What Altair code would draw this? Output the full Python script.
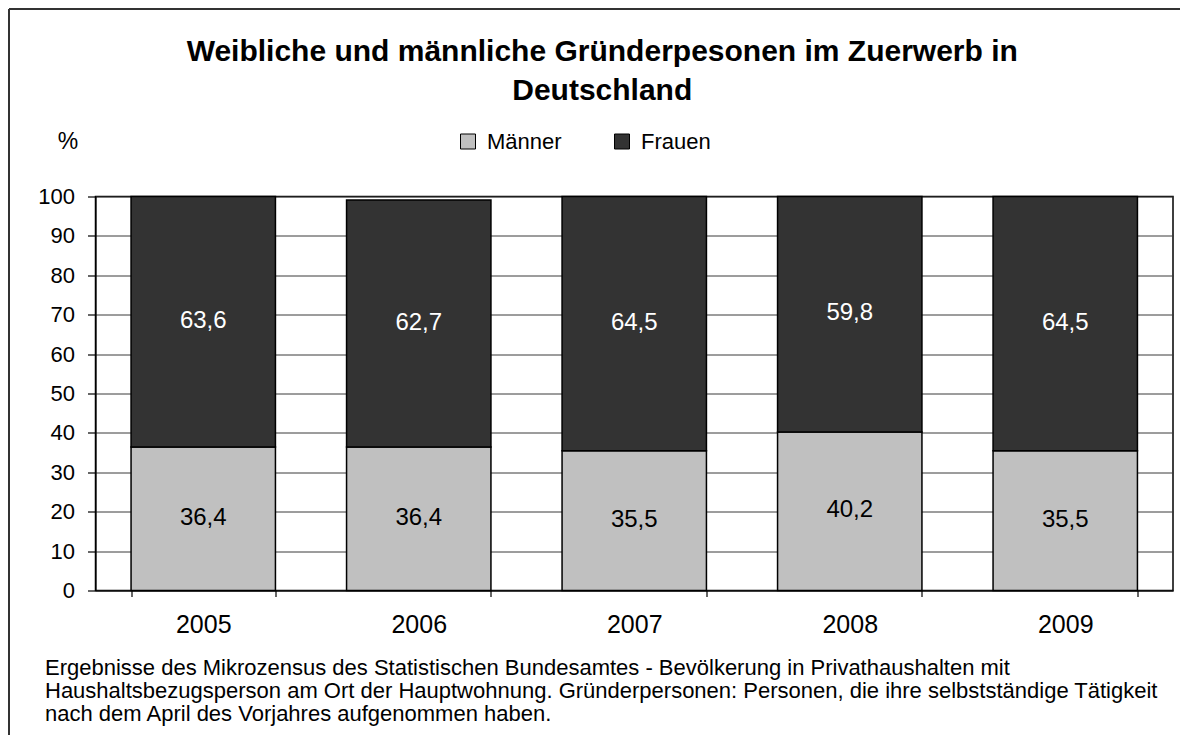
import altair as alt
import pandas as pd

years = ["2005", "2006", "2007", "2008", "2009"]
maenner = [36.4, 36.4, 35.5, 40.2, 35.5]
frauen = [63.6, 62.7, 64.5, 59.8, 64.5]
series = ["Männer", "Frauen"]
colors = ["#C0C0C0", "#333333"]
label_colors = ["black", "white"]
y_ticks = [0, 10, 20, 30, 40, 50, 60, 70, 80, 90, 100]

title_lines = ["Weibliche und männliche Gründerpesonen im Zuerwerb in", "Deutschland"]
footnote = [
    "Ergebnisse des Mikrozensus des Statistischen Bundesamtes - Bevölkerung in Privathaushalten mit",
    "Haushaltsbezugsperson am Ort der Hauptwohnung. Gründerpersonen: Personen, die ihre selbstständige Tätigkeit",
    "nach dem April des Vorjahres aufgenommen haben.",
]

rows = []
for i, y in enumerate(years):
    base = 0.0
    for s, vals, lc in zip(series, [maenner, frauen], label_colors):
        v = vals[i]
        rows.append({
            "Jahr": y, "Gruppe": s, "order": series.index(s),
            "y0": base, "y1": base + v, "mid": base + v / 2,
            "label": f"{v:.1f}".replace(".", ","), "lc": lc,
        })
        base += v
df = pd.DataFrame(rows)

FONT = "Liberation Sans"
W, H = 1077.5, 394

x_axis = alt.Axis(title=footnote, titleFont=FONT, titleFontSize=22,
                  titleFontWeight="normal", titleColor="black",
                  titleAlign="left", titleAnchor="start", titleX=-51, titleY=83.5,
                  titleBaseline="alphabetic", titleLineHeight=23,
                  labelAngle=0, labelFont=FONT, labelFontSize=25, labelColor="black",
                  labelPadding=16, tickBand="extent", tickSize=6, tickColor="black",
                  tickWidth=1.2, domainColor="black", domainWidth=1.2, grid=False)

y_axis = alt.Axis(values=y_ticks, title="%", titleAngle=0, titleFont=FONT,
                  titleFontSize=23, titleFontWeight="normal", titleColor="black",
                  titleX=-28, titleY=-55, titleAlign="center", titleBaseline="middle",
                  labelFont=FONT, labelFontSize=22, labelColor="black", labelPadding=13,
                  labelOverlap=False, tickSize=8, tickColor="black", tickWidth=1.2,
                  domainColor="black", domainWidth=1.2,
                  grid=True, gridColor="#3a3a3a", gridWidth=1)

x_enc = alt.X("Jahr:N", sort=years,
              scale=alt.Scale(paddingInner=0.33, paddingOuter=0.165), axis=x_axis)
y_scale = alt.Scale(domain=[0, 100], nice=False)

bars = alt.Chart(df).mark_bar(stroke="black", strokeWidth=1.5).encode(
    x=x_enc,
    y=alt.Y("y0:Q", scale=y_scale, axis=y_axis),
    y2="y1:Q",
    color=alt.Color("Gruppe:N", sort=series,
                    scale=alt.Scale(domain=series, range=colors),
                    legend=alt.Legend(title=None, orient="none", direction="horizontal",
                                      legendX=361.5, legendY=-66, symbolType="square",
                                      symbolSize=225, symbolStrokeColor="black",
                                      symbolStrokeWidth=1, symbolOpacity=1,
                                      labelFont=FONT, labelFontSize=22, labelColor="black",
                                      labelOffset=8, columnPadding=49)),
    order="order:Q",
)

labels = alt.Chart(df).mark_text(font=FONT, fontSize=24, baseline="middle", dy=-1).encode(
    x=x_enc,
    y=alt.Y("mid:Q", scale=y_scale, axis=y_axis),
    text="label:N",
    color=alt.Color("lc:N", scale=None, legend=None),
)

frame_left = alt.Chart().mark_rule(color="#333333", strokeWidth=2).encode(
    x=alt.value(-86.5), y=alt.value(-187.5), y2=alt.value(H + 200))
frame_top = alt.Chart().mark_rule(color="#333333", strokeWidth=2).encode(
    x=alt.value(-86.5), x2=alt.value(W + 200), y=alt.value(-187.5))

chart = alt.layer(bars, labels, frame_left, frame_top).properties(
    width=W, height=H,
    padding={"left": 87.5, "top": 188.5, "right": 7, "bottom": 144},
    autosize=alt.AutoSizeParams(type="none"),
    title=alt.TitleParams(title_lines, font=FONT, fontSize=30, fontWeight="bold",
                          color="black", anchor="middle", dx=-32, offset=-98,
                          lineHeight=39),
).configure(
    background="white",
    view=alt.ViewConfig(stroke="black", strokeWidth=1.5),
)

chart.save("out.html", embed_options={"renderer": "svg", "actions": False})
